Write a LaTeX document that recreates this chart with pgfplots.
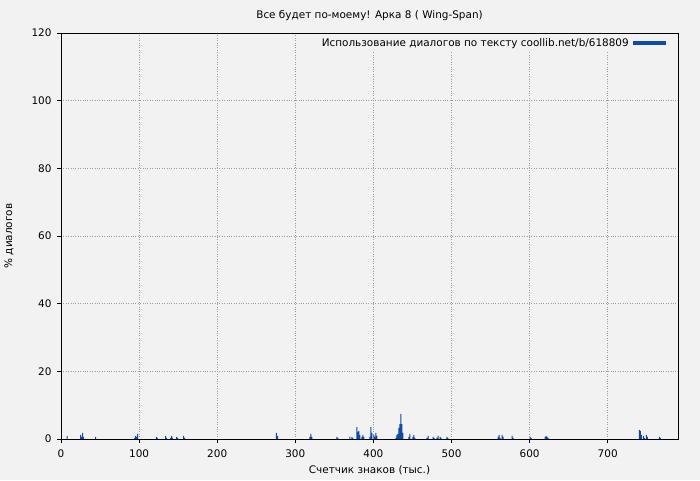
\documentclass[border=0pt]{standalone}
\usepackage{pgfplots}
\pgfplotsset{compat=1.18}
\usepackage{fontspec}
\setmainfont{DejaVu Sans}
\definecolor{bg}{HTML}{F2F2F2}
\definecolor{barblue}{HTML}{0C4BAA}
\definecolor{gridgray}{HTML}{A0A0A0}
\newcommand{\fs}{\fontsize{10.45}{12.5}\selectfont}
\begin{document}
\begin{tikzpicture}
\fill[bg] (0,0) rectangle (700pt,480pt);
\begin{axis}[
    at={(61pt,41pt)}, anchor=south west,
    scale only axis, width=617pt, height=406pt,
    xmin=0, xmax=790, ymin=0, ymax=120,
    xtick={0,100,...,700}, ytick={0,20,...,120},
    grid=major, grid style={gridgray, dotted, line width=0.7pt},
    axis line style={black, line width=0.9pt},
    tick align=outside, tick pos=left, major tick length=4pt,
    tick style={black, line width=0.9pt},
    ticklabel style={font=\fs},
    xticklabel style={yshift=-3pt},
    yticklabel style={xshift=-2pt},
    /pgf/number format/assume math mode=true,
    title={Все будет по-моему! Арка 8 ( Wing-Span)},
    xlabel={Счетчик знаков (тыс.)},
    ylabel={\% диалогов},
    every axis title/.style={at={(axis description cs:0.5,1)}, anchor=center, yshift=17pt, font=\fs},
    every axis x label/.style={at={(axis description cs:0.5,0)}, anchor=center, yshift=-31pt, font=\fs},
    every axis y label/.style={at={(axis description cs:-0.0843,0.5)}, anchor=center, rotate=90, font=\fs},
    ybar, bar width=1.28, bar shift=0pt,
    legend plot pos=right,
    legend cell align=right,
    legend style={draw=none, fill=bg, at={([yshift=3pt]rel axis cs:0.987,0.99)}, anchor=north east,
        font=\fs, inner sep=2pt},
    legend image code/.code={\draw[barblue, line width=4pt] (0pt,0pt) -- (33pt,0pt);},
]
\addplot[fill=barblue, draw=none] coordinates {
(7.9,0.9) (25.0,1.2) (26.3,0.6) (27.6,1.8) (28.8,0.6) (44.2,0.6)
(94.2,0.3) (95.5,0.9) (96.8,0.6) (98.1,1.5)
(122.1,0.6) (123.3,0.3) (134.0,0.9) (135.3,0.3)
(140.4,0.3) (141.7,0.9) (143.0,0.3) (148.1,0.6) (149.4,0.3)
(157.1,0.9) (158.3,0.3)
(275.9,1.8) (277.2,0.9)
(318.6,0.6) (319.9,1.5) (321.2,0.6)
(353.2,0.6) (354.5,0.3)
(369.9,0.6) (372.4,0.6) (373.7,0.3)
(378.8,3.5) (380.1,2.1) (381.4,2.4) (382.7,1.2) (385.3,0.6) (386.5,1.2) (387.8,0.6)
(395.5,0.6) (396.8,3.5) (398.1,1.8) (400.6,1.2) (401.9,0.6) (403.2,1.8) (404.5,0.9)
(428.8,0.3) (430.1,1.2) (431.4,1.5) (432.7,3.3) (434.0,4.4) (435.3,7.4) (436.5,4.4) (437.8,1.8)
(445.5,0.6) (446.8,1.5) (450.6,0.6) (451.9,1.2) (453.2,0.3)
(468.6,0.3) (469.9,0.9)
(476.3,0.6) (477.6,0.3) (481.4,0.3) (482.7,0.9) (485.3,0.6) (486.6,0.3)
(494.2,0.6) (495.5,0.3)
(559.6,0.6) (560.9,1.2) (562.2,0.3) (564.7,1.2) (566.0,0.6)
(577.6,0.9) (578.8,0.3)
(600.6,0.6) (601.9,0.3)
(619.9,0.6) (621.2,0.9) (622.4,0.6) (623.7,0.3)
(740.4,2.7) (741.7,2.4) (743.0,1.2) (745.5,0.9) (746.8,0.3) (749.4,1.2) (750.7,0.6)
(766.1,0.6) (767.4,0.3)
};
\addlegendentry{Использование диалогов по тексту coollib.net/b/618809}
\end{axis}
\end{tikzpicture}
\end{document}
